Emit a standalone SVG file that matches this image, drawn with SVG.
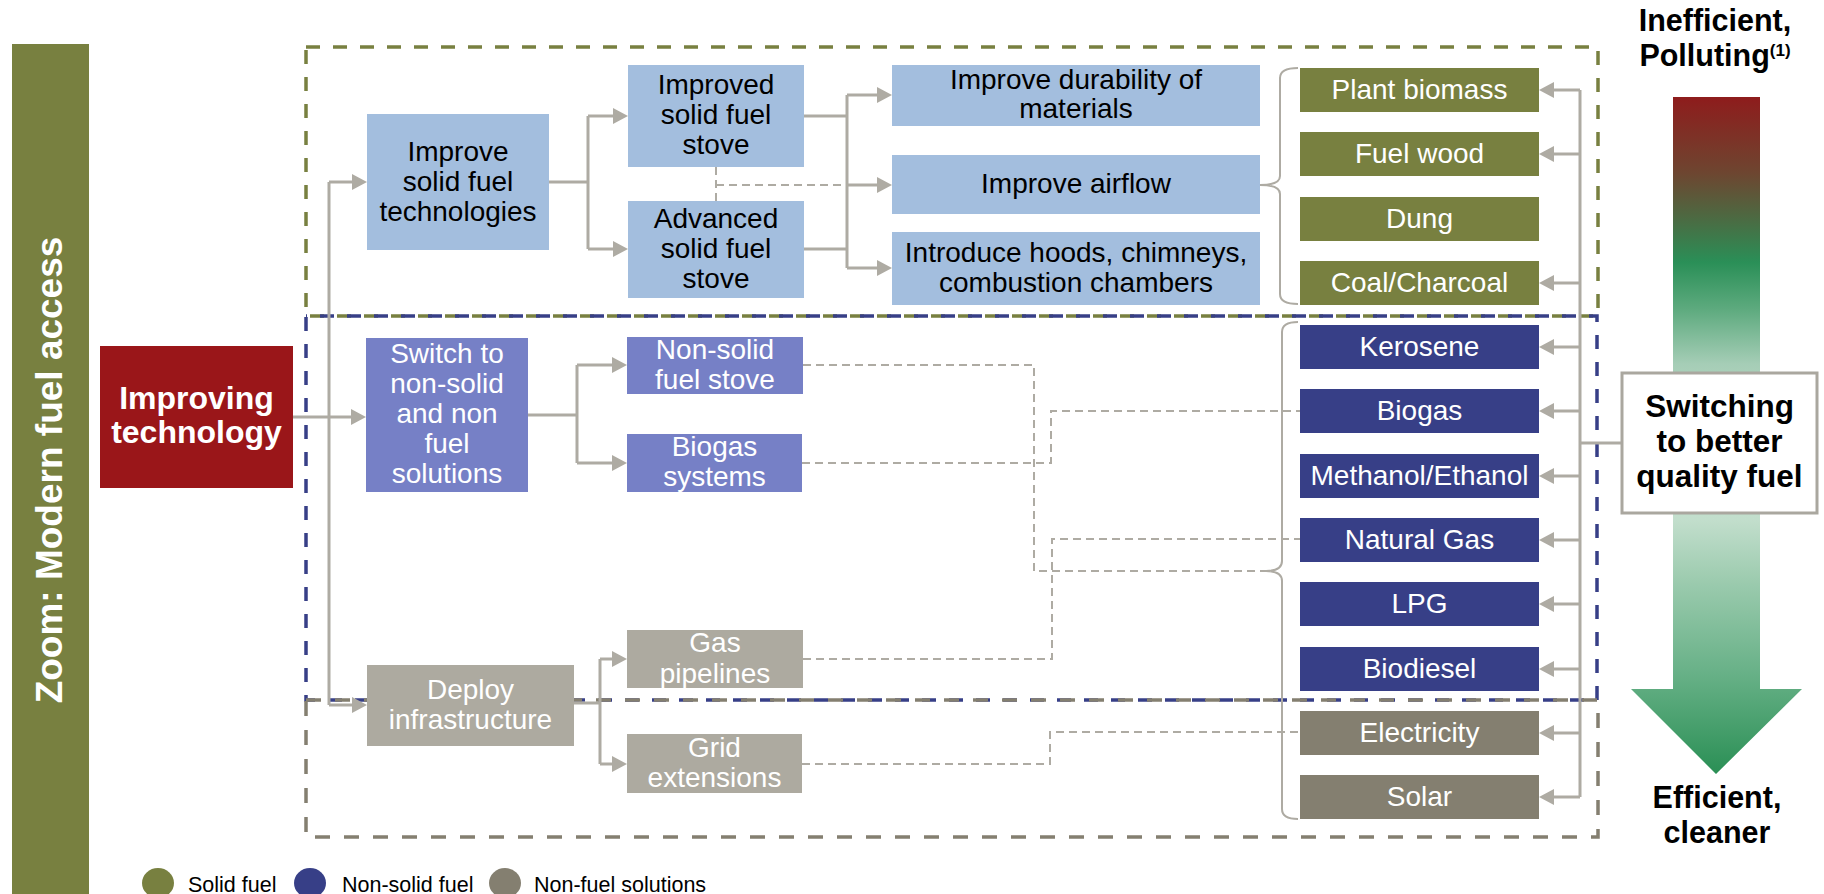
<svg xmlns="http://www.w3.org/2000/svg" width="1824" height="894" viewBox="0 0 1824 894">
<defs>
<style>
text{font-family:"Liberation Sans",Arial,sans-serif;}
.t28{font-size:28px;text-anchor:middle;}
.blk{fill:#000;}
.wht{fill:#fff;}
.bold{font-weight:bold;}
.lb{fill:#A3BEDE;}
.ol{fill:#788040;}
.pw{fill:#7680C6;}
.nv{fill:#373F87;}
.lg{fill:#ADAAA0;}
.dg{fill:#847F70;}
.con{fill:none;stroke:#AEABA3;stroke-width:3;}
.arr{fill:none;stroke:#AEABA3;stroke-width:3;marker-end:url(#ah);}
.dsh{fill:none;stroke:#AEABA3;stroke-width:2;stroke-dasharray:8 5;}
.brace{fill:none;stroke:#AEABA3;stroke-width:2;}
.legend{font-size:21.5px;fill:#000;}
</style>
<marker id="ah" markerUnits="userSpaceOnUse" markerWidth="15" markerHeight="16" viewBox="0 0 15 16" refX="3" refY="8" orient="auto">
<path d="M0,0 L15,8 L0,16 Z" fill="#AEABA3"/>
</marker>
<linearGradient id="grad" gradientUnits="userSpaceOnUse" x1="0" y1="97" x2="0" y2="774">
<stop offset="0" stop-color="#8E1C1C"/>
<stop offset="0.111" stop-color="#6E4530"/>
<stop offset="0.179" stop-color="#4C6A42"/>
<stop offset="0.244" stop-color="#2A8F57"/>
<stop offset="0.313" stop-color="#5DAA7E"/>
<stop offset="0.394" stop-color="#A5CDB6"/>
<stop offset="0.507" stop-color="#C8E2D2"/>
<stop offset="0.625" stop-color="#C2DECC"/>
<stop offset="0.72" stop-color="#9ACAAD"/>
<stop offset="0.855" stop-color="#66B086"/>
<stop offset="1" stop-color="#2A8F55"/>
</linearGradient>
</defs>

<rect width="1824" height="894" fill="#fff"/>

<!-- side bar -->
<g id="sidebar">
<rect x="12" y="44" width="77" height="850" fill="#788040"/>
<text transform="translate(62,470) rotate(-90)" font-size="37" font-weight="bold" fill="#fff" text-anchor="middle">Zoom: Modern fuel access</text>
</g>

<!-- dashed group boxes -->
<g id="groups">
<rect x="306" y="47" width="1292" height="269" fill="none" stroke="#788040" stroke-width="3.5" stroke-dasharray="14 13"/>
<rect x="306" y="316" width="1291" height="384" fill="none" stroke="#373F87" stroke-width="3.5" stroke-dasharray="14 13" stroke-dashoffset="13"/>
<rect x="306" y="700" width="1292" height="137" fill="none" stroke="#847F70" stroke-width="3.5" stroke-dasharray="15 14"/>
</g>

<!-- gradient arrow -->
<g id="quality-arrow">
<path d="M1673,97 H1760 V689 H1802 L1716,774 L1631,689 H1673 Z" fill="url(#grad)"/>
<text class="bold" font-size="30.5" text-anchor="middle" x="1715" y="31">Inefficient,</text>
<text class="bold" font-size="30.5" text-anchor="middle" x="1715" y="66">Polluting<tspan font-size="17" dy="-10">(1)</tspan></text>
<text class="bold" font-size="30.5" text-anchor="middle" x="1717" y="808">Efficient,</text>
<text class="bold" font-size="30.5" text-anchor="middle" x="1717" y="843">cleaner</text>
</g>

<!-- connectors -->
<g id="connectors">
<path class="con" d="M329,182 V705"/>
<path class="arr" d="M329,182 H355"/>
<path class="arr" d="M293,417 H354"/>
<path class="arr" d="M329,705 H355"/>

<path class="con" d="M549,182 H588 M588,116 V249"/>
<path class="arr" d="M588,116 H616"/>
<path class="arr" d="M588,249 H616"/>

<path class="con" d="M804,116 H847 M804,249 H847 M847,95 V268"/>
<path class="arr" d="M847,95 H880"/>
<path class="arr" d="M847,185 H880"/>
<path class="arr" d="M847,268 H880"/>
<path class="dsh" d="M716,167 V201 M716,185 H847"/>

<path class="con" d="M528,415 H577 M577,365 V463"/>
<path class="arr" d="M577,365 H615"/>
<path class="arr" d="M577,463 H615"/>

<path class="con" d="M574,703 H600 M600,659 V764"/>
<path class="arr" d="M600,659 H615"/>
<path class="arr" d="M600,764 H615"/>

<path class="dsh" d="M803,365 H1034 V571 H1267"/>
<path class="dsh" d="M802,463 H1051 V411 H1300"/>
<path class="dsh" d="M803,659 H1052 V539 H1300"/>
<path class="dsh" d="M802,764 H1050 V732 H1300"/>

<path class="brace" d="M1298,68 Q1280,68 1280,78 V176 Q1280,185 1260,185 Q1280,185 1280,194 V294 Q1280,304 1298,304"/>
<path class="brace" d="M1298,322 Q1282,322 1282,332 V561 Q1282,571 1266,571 Q1282,571 1282,581 V809 Q1282,819 1298,819"/>

<path class="con" d="M1622,443 H1580 M1580,90 V797"/>
<path class="arr" d="M1580,90 H1551"/>
<path class="arr" d="M1580,154 H1551"/>
<path class="arr" d="M1580,283 H1551"/>
<path class="arr" d="M1580,347 H1551"/>
<path class="arr" d="M1580,411 H1551"/>
<path class="arr" d="M1580,476 H1551"/>
<path class="arr" d="M1580,540 H1551"/>
<path class="arr" d="M1580,604 H1551"/>
<path class="arr" d="M1580,669 H1551"/>
<path class="arr" d="M1580,733 H1551"/>
<path class="arr" d="M1580,797 H1551"/>
</g>

<!-- nodes -->
<g id="improving-technology">
<rect x="100" y="346" width="193" height="142" fill="#9A1619"/>
<text class="bold wht" font-size="32" text-anchor="middle"><tspan x="196.5" y="409">Improving</tspan><tspan x="196.5" y="443">technology</tspan></text>
</g>

<g id="improve-solid">
<rect class="lb" x="367" y="114" width="182" height="136"/>
<text class="t28 blk"><tspan x="458" y="161">Improve</tspan><tspan x="458" y="191">solid fuel</tspan><tspan x="458" y="221">technologies</tspan></text>
</g>

<g id="improved-stove">
<rect class="lb" x="628" y="65" width="176" height="102"/>
<text class="t28 blk"><tspan x="716" y="94">Improved</tspan><tspan x="716" y="124">solid fuel</tspan><tspan x="716" y="154">stove</tspan></text>
</g>

<g id="advanced-stove">
<rect class="lb" x="628" y="201" width="176" height="97"/>
<text class="t28 blk"><tspan x="716" y="228">Advanced</tspan><tspan x="716" y="258">solid fuel</tspan><tspan x="716" y="288">stove</tspan></text>
</g>

<g id="durability">
<rect class="lb" x="892" y="65" width="368" height="61"/>
<text class="t28 blk"><tspan x="1076" y="89">Improve durability of</tspan><tspan x="1076" y="118">materials</tspan></text>
</g>

<g id="airflow">
<rect class="lb" x="892" y="155" width="368" height="59"/>
<text class="t28 blk" x="1076" y="193">Improve airflow</text>
</g>

<g id="hoods">
<rect class="lb" x="892" y="232" width="368" height="73"/>
<text class="t28 blk"><tspan x="1076" y="262">Introduce hoods, chimneys,</tspan><tspan x="1076" y="292">combustion chambers</tspan></text>
</g>

<g id="switch">
<rect class="pw" x="366" y="338" width="162" height="154"/>
<text class="t28 wht"><tspan x="447" y="363">Switch to</tspan><tspan x="447" y="393">non-solid</tspan><tspan x="447" y="423">and non</tspan><tspan x="447" y="453">fuel</tspan><tspan x="447" y="483">solutions</tspan></text>
</g>

<g id="nonsolid-stove">
<rect class="pw" x="627" y="337" width="176" height="57"/>
<text class="t28 wht"><tspan x="715" y="359">Non-solid</tspan><tspan x="715" y="389">fuel stove</tspan></text>
</g>

<g id="biogas-systems">
<rect class="pw" x="627" y="434" width="175" height="58"/>
<text class="t28 wht"><tspan x="714.5" y="456">Biogas</tspan><tspan x="714.5" y="486">systems</tspan></text>
</g>

<g id="deploy">
<rect class="lg" x="367" y="665" width="207" height="81"/>
<text class="t28 wht"><tspan x="470.5" y="699">Deploy</tspan><tspan x="470.5" y="729">infrastructure</tspan></text>
</g>

<g id="gas-pipelines">
<rect class="lg" x="627" y="630" width="176" height="58"/>
<text class="t28 wht"><tspan x="715" y="652">Gas</tspan><tspan x="715" y="683">pipelines</tspan></text>
</g>

<g id="grid-extensions">
<rect class="lg" x="627" y="734" width="175" height="59"/>
<text class="t28 wht"><tspan x="714.5" y="757">Grid</tspan><tspan x="714.5" y="787">extensions</tspan></text>
</g>

<g id="plant-biomass"><rect class="ol" x="1300" y="68" width="239" height="44"/><text class="t28 wht" x="1419.5" y="99">Plant biomass</text></g>
<g id="fuel-wood"><rect class="ol" x="1300" y="132" width="239" height="44"/><text class="t28 wht" x="1419.5" y="163">Fuel wood</text></g>
<g id="dung"><rect class="ol" x="1300" y="197" width="239" height="44"/><text class="t28 wht" x="1419.5" y="228">Dung</text></g>
<g id="coal"><rect class="ol" x="1300" y="261" width="239" height="44"/><text class="t28 wht" x="1419.5" y="292">Coal/Charcoal</text></g>
<g id="kerosene"><rect class="nv" x="1300" y="325" width="239" height="44"/><text class="t28 wht" x="1419.5" y="356">Kerosene</text></g>
<g id="biogas"><rect class="nv" x="1300" y="389" width="239" height="44"/><text class="t28 wht" x="1419.5" y="420">Biogas</text></g>
<g id="methanol"><rect class="nv" x="1300" y="454" width="239" height="44"/><text class="t28 wht" x="1419.5" y="485">Methanol/Ethanol</text></g>
<g id="natural-gas"><rect class="nv" x="1300" y="518" width="239" height="44"/><text class="t28 wht" x="1419.5" y="549">Natural Gas</text></g>
<g id="lpg"><rect class="nv" x="1300" y="582" width="239" height="44"/><text class="t28 wht" x="1419.5" y="613">LPG</text></g>
<g id="biodiesel"><rect class="nv" x="1300" y="647" width="239" height="44"/><text class="t28 wht" x="1419.5" y="678">Biodiesel</text></g>
<g id="electricity"><rect class="dg" x="1300" y="711" width="239" height="44"/><text class="t28 wht" x="1419.5" y="742">Electricity</text></g>
<g id="solar"><rect class="dg" x="1300" y="775" width="239" height="44"/><text class="t28 wht" x="1419.5" y="806">Solar</text></g>

<g id="switching">
<rect x="1622" y="373" width="195" height="140" fill="#fff" stroke="#AAA79F" stroke-width="3"/>
<text class="bold" font-size="31.5" text-anchor="middle"><tspan x="1719.5" y="417">Switching</tspan><tspan x="1719.5" y="452">to better</tspan><tspan x="1719.5" y="487">quality fuel</tspan></text>
</g>

<g id="legend">
<ellipse cx="158" cy="883" rx="16" ry="15" fill="#788040"/>
<text class="legend" x="188" y="892">Solid fuel</text>
<ellipse cx="310" cy="883" rx="16" ry="15" fill="#373F87"/>
<text class="legend" x="342" y="892">Non-solid fuel</text>
<ellipse cx="505" cy="883" rx="16" ry="15" fill="#847F70"/>
<text class="legend" x="534" y="892">Non-fuel solutions</text>
</g>
</svg>
